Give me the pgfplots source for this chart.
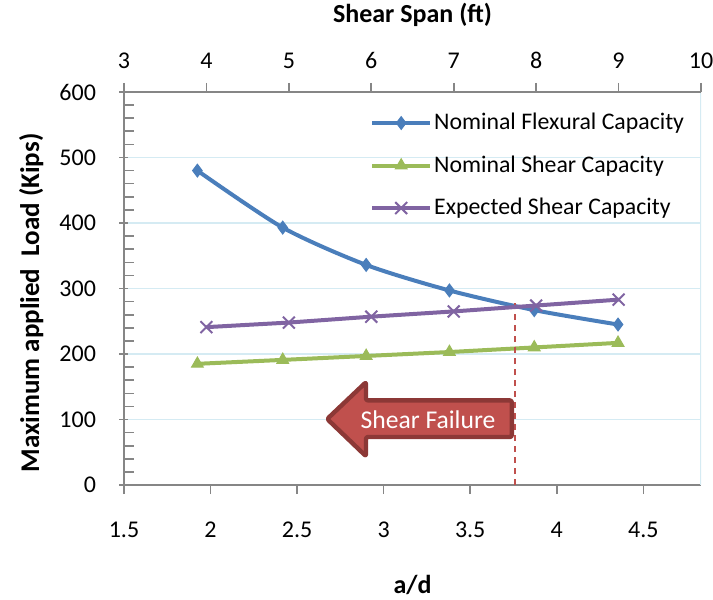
\documentclass[border=0pt]{standalone}
\usepackage{pgfplots}
\pgfplotsset{compat=1.18}
\usepackage{fontspec}
\setmainfont{Carlito}

\definecolor{flexblue}{RGB}{74,126,187}
\definecolor{sheargreen}{RGB}{155,187,89}
\definecolor{exppurple}{RGB}{128,100,162}
\definecolor{failred}{RGB}{192,80,77}
\definecolor{faildark}{RGB}{140,56,54}
\definecolor{gridblue}{RGB}{213,235,243}
\definecolor{axisgray}{RGB}{134,134,134}

\pgfplotsset{
  chartbase/.style={
    scale only axis, width=288.5pt, height=196.5pt,
    ymin=0, ymax=600,
    /pgf/number format/assume math mode=true,
    tick label style={font=\fontsize{12}{14}\selectfont},
    axis line style={draw=axisgray, line width=0.8pt},
    tick style={draw=axisgray, line width=0.8pt},
    tick align=outside, major tick length=4.5pt, minor tick length=5pt,
  },
  flexstyle/.style={flexblue, line width=2pt, smooth, tension=0.45, mark=diamond*, mark size=3.2pt, mark options={solid, fill=flexblue, line width=0.5pt}},
  shearstyle/.style={sheargreen, line width=2pt, mark=triangle*, mark size=3.4pt, mark options={solid, fill=sheargreen, line width=0.5pt}},
  expstyle/.style={exppurple, line width=2pt, mark=x, mark size=4.2pt, mark options={solid, line width=1pt}},
}

\begin{document}
\begin{tikzpicture}
\begin{axis}[chartbase,
  xmin=1.5, xmax=4.8333,
  axis x line*=bottom, axis y line*=left,
  xtick={1.5,2,2.5,3,3.5,4,4.5},
  xticklabels={1.5,2,2.5,3,3.5,4,4.5},
  ytick={0,100,...,600}, minor y tick num=4,
  ymajorgrids, major grid style={draw=gridblue, line width=0.75pt},
  every major y tick/.append style={xshift=2.25pt},
  every minor y tick/.append style={xshift=5pt},
  xticklabel style={yshift=-10.5pt},
  yticklabel style={xshift=-6pt},
  xlabel={a/d},
  xlabel style={at={(axis description cs:0.5,-0.254)}, anchor=center, font=\fontsize{13}{15}\selectfont\bfseries},
  ylabel={Maximum applied\ \ Load (Kips)},
  ylabel style={at={(axis description cs:-0.161,0.463)}, anchor=center, font=\fontsize{13.5}{15}\selectfont\bfseries},
]
\draw[gridblue, line width=0.75pt] (rel axis cs:1,0) -- (rel axis cs:1,1);
\addplot[flexstyle] coordinates {(1.924,480) (2.417,393) (2.899,336) (3.380,297) (3.870,267) (4.354,245)};
\addplot[shearstyle] coordinates {(1.924,185) (2.417,191) (2.899,197) (3.380,203) (3.870,210) (4.354,217)};
\addplot[failred, line width=0.8pt, dash pattern=on 3pt off 2.5pt] coordinates {(3.76,0) (3.76,284)};
\end{axis}
\begin{axis}[chartbase,
  xmin=3, xmax=10,
  axis x line*=top, hide y axis,
  xtick={3,4,...,10},
  xticklabel style={yshift=3.5pt},
  xlabel={Shear Span (ft)},
  xlabel style={at={(axis description cs:0.5,1.196)}, anchor=center, font=\fontsize{13}{15}\selectfont\bfseries},
  legend style={at={(axis description cs:0.426,0.952)}, anchor=north west, draw=none, fill=none,
    font=\fontsize{11.9}{14}\selectfont, row sep=9.5pt, inner sep=0pt,
    nodes={inner sep=1pt}},
  legend cell align=left,
  legend image code/.code={\draw[#1, mark repeat=2, mark phase=2] plot coordinates {(0pt,0pt) (14.5pt,0pt) (29pt,0pt)};},
]
\addlegendimage{flexstyle}
\addlegendentry{Nominal Flexural Capacity}
\addlegendimage{shearstyle}
\addlegendentry{Nominal Shear Capacity}
\addplot[expstyle] coordinates {(4,241) (5,248) (6,257) (7,265) (8,274) (9,283)};
\addlegendentry{Expected Shear Capacity}
\end{axis}
\draw[faildark, fill=failred, line width=2.2pt, line join=round, rounded corners=1pt]
  (101.6pt,33pt) -- (121pt,51.4pt) -- (121pt,42.3pt) -- (193.9pt,42.3pt)
  -- (193.9pt,24pt) -- (121pt,24pt) -- (121pt,14.4pt) -- cycle;
\node[text=white, font=\fontsize{12.8}{14}\selectfont] at (152pt,32.5pt) {Shear Failure};
\pgfresetboundingbox
\path[use as bounding box] (-62pt,-57.5pt) rectangle (294.5pt,242.5pt);
\end{tikzpicture}
\end{document}
